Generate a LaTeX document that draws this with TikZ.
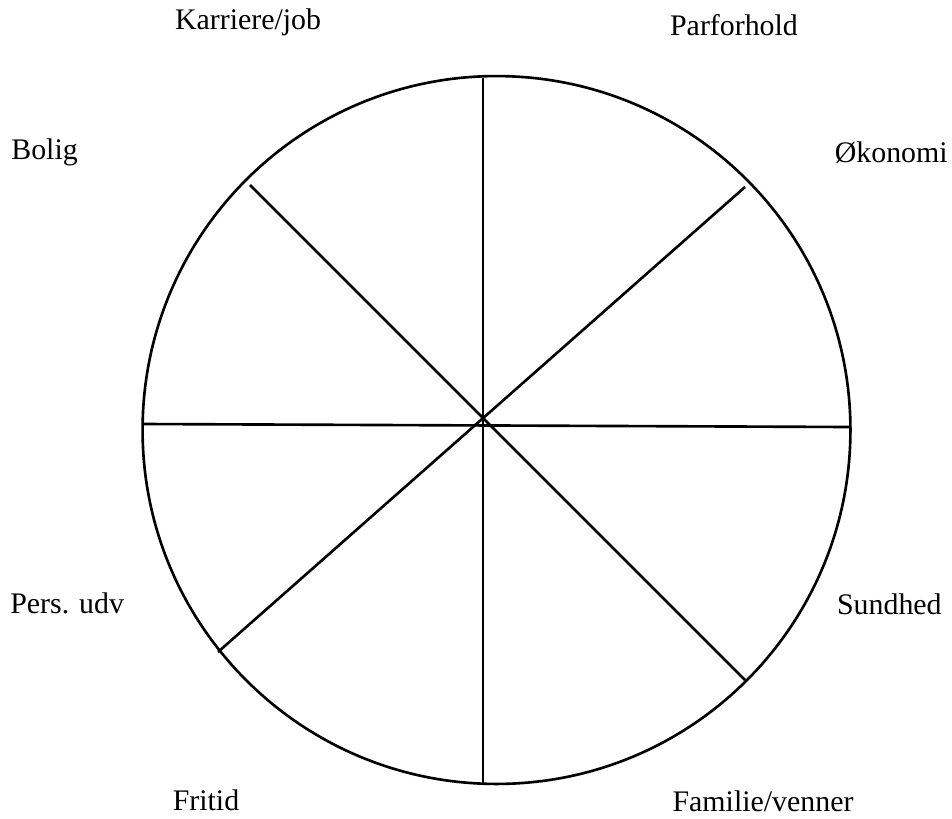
\documentclass[tikz,border=0pt]{standalone}
\usepackage{fontspec}
\setmainfont{Liberation Serif}
\usepackage{tikz}
\usetikzlibrary{positioning}

\begin{document}
\begin{tikzpicture}[
    x=0.02cm, y=-0.02cm,
    spoke/.style={line width=1.5pt},
    area/.style={font=\fontsize{17}{20}\selectfont, inner sep=0pt}
  ]
  \useasboundingbox (0, 0) rectangle (952, 818);

  % Wheel
  \coordinate (mid) at (496.5, 430);
  \draw[spoke] (mid) circle (7.08cm);

  \coordinate (n)  at (483, 78);
  \coordinate (s)  at (483, 783);
  \coordinate (w)  at (142, 424);
  \coordinate (e)  at (851, 427);
  \coordinate (nw) at (250, 185);
  \coordinate (se) at (745, 680);
  \coordinate (ne) at (745, 187);
  \coordinate (sw) at (218, 652);

  \draw[spoke] (n) -- (s);
  \draw[spoke] (w) -- (e);
  \draw[spoke] (nw) -- (se);
  \draw[spoke] (ne) -- (sw);

  % Labels
  \node[area] (job)     at (248, 22)  {Karriere/job};
  \node[area] (par)     at (734, 25)  {Parforhold};
  \node[area, anchor=west] (bolig) at (11, 152) {Bolig};
  \node[area, anchor=east] (oko)   at (948, 153) {Økonomi};
  \node[area, anchor=west] (pers)  at (10, 603) {Pers. udv};
  \node[area, anchor=east] (sund)  at (942, 604) {Sundhed};
  \node[area] (fritid)  at (206, 800) {Fritid};
  \node[area] (familie) at (763, 801) {Familie/venner};
\end{tikzpicture}
\end{document}
